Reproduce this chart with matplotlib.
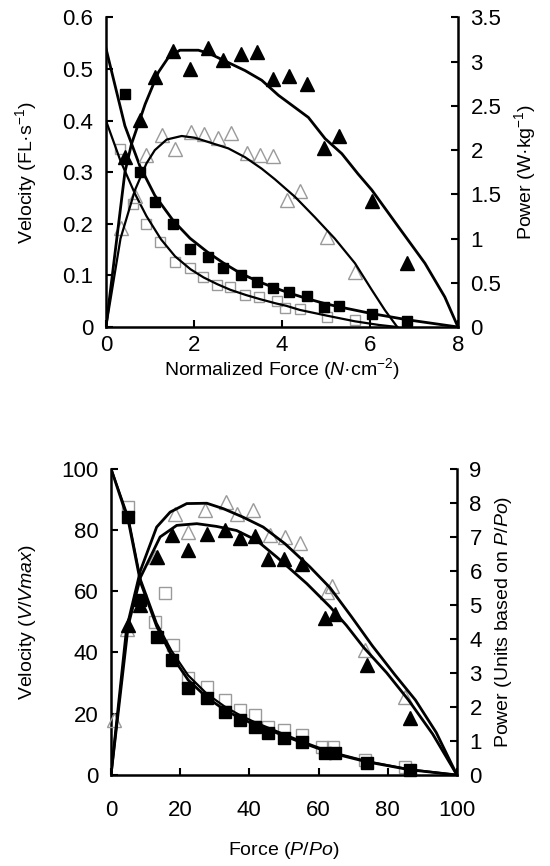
import matplotlib
matplotlib.use("Agg")
import matplotlib.pyplot as plt
from matplotlib.ticker import FuncFormatter, FixedLocator

plt.rcParams['font.family'] = ['Liberation Sans', 'DejaVu Sans']
plt.rcParams['mathtext.fontset'] = 'custom'
plt.rcParams['mathtext.rm'] = 'Liberation Sans'
plt.rcParams['mathtext.it'] = 'Liberation Sans:italic'
plt.rcParams['mathtext.bf'] = 'Liberation Sans:bold'

# ---------------- top panel data ----------------
top_filled_F = [0.43, 0.77, 1.11, 1.53, 1.91, 2.31, 2.67, 3.06, 3.44, 3.80, 4.16, 4.57, 4.95, 5.30, 6.04, 6.85]
top_filled_V = [0.452, 0.300, 0.243, 0.200, 0.152, 0.135, 0.114, 0.101, 0.088, 0.075, 0.068, 0.061, 0.039, 0.041, 0.025, 0.012]
top_filled_P = [1.92, 2.34, 2.83, 3.12, 2.92, 3.16, 3.02, 3.09, 3.11, 2.81, 2.84, 2.75, 2.02, 2.16, 1.43, 0.72]

top_open_F = [0.32, 0.62, 0.92, 1.23, 1.57, 1.91, 2.21, 2.52, 2.82, 3.16, 3.48, 3.88, 4.07, 4.41, 5.02, 5.66]
top_open_V = [0.345, 0.239, 0.200, 0.165, 0.126, 0.114, 0.097, 0.081, 0.078, 0.062, 0.059, 0.051, 0.036, 0.034, 0.020, 0.0135]
top_open_PF = [0.33, 0.66, 0.92, 1.27, 1.57, 1.93, 2.23, 2.55, 2.84, 3.20, 3.50, 3.80, 4.11, 4.41, 5.02, 5.66]
top_open_P = [1.12, 1.48, 1.94, 2.17, 2.01, 2.20, 2.18, 2.14, 2.19, 1.97, 1.95, 1.93, 1.44, 1.54, 1.02, 0.62]

# fitted curves
top_fit_fv_F = [0, 0.43, 0.77, 1.11, 1.53, 1.91, 2.31, 2.67, 3.06, 3.44, 3.80, 4.16, 4.57, 4.95, 5.30, 6.04, 6.85, 8.0]
top_fit_fv_V = [0.54, 0.39, 0.312, 0.255, 0.206, 0.172, 0.145, 0.124, 0.104, 0.089, 0.077, 0.066, 0.055, 0.046, 0.039, 0.026, 0.014, 0.0]
top_fit_ov_F = [0, 0.33, 0.66, 0.92, 1.25, 1.57, 1.92, 2.22, 2.53, 2.83, 3.18, 3.50, 3.85, 4.10, 4.41, 5.02, 5.66, 6.20, 6.62]
top_fit_ov_V = [0.40, 0.322, 0.258, 0.215, 0.170, 0.137, 0.112, 0.096, 0.083, 0.072, 0.062, 0.054, 0.046, 0.041, 0.033, 0.022, 0.011, 0.004, 0.0]
top_fit_fp_F = [0, 0.43, 0.58, 0.89, 1.19, 1.42, 1.68, 2.10, 2.36, 2.78, 3.16, 3.54, 3.92, 4.22, 4.60, 4.98, 5.36, 5.73, 6.04, 6.65, 7.25, 7.70, 8.0]
top_fit_fp_P = [0, 1.75, 2.07, 2.52, 2.88, 3.05, 3.13, 3.13, 3.09, 2.99, 2.90, 2.79, 2.62, 2.51, 2.37, 2.13, 1.96, 1.73, 1.55, 1.13, 0.72, 0.34, 0.0]
top_fit_op_F = [0, 0.33, 0.66, 0.92, 1.11, 1.38, 1.72, 2.02, 2.40, 2.78, 3.16, 3.54, 3.84, 4.30, 4.75, 5.20, 5.66, 6.04, 6.34, 6.62]
top_fit_op_P = [0, 1.00, 1.55, 1.85, 2.00, 2.12, 2.16, 2.14, 2.08, 2.02, 1.92, 1.79, 1.67, 1.47, 1.24, 1.00, 0.72, 0.42, 0.19, 0.0]

# ---------------- bottom panel data ----------------
bot_filled_F = [5.0, 8.5, 13.2, 17.5, 22.3, 27.7, 32.9, 37.3, 41.6, 45.5, 50.0, 55.1, 61.8, 64.7, 73.9, 86.4]
bot_filled_V = [84.3, 57.0, 45.1, 37.5, 28.3, 25.0, 20.7, 17.9, 15.8, 13.6, 12.2, 10.9, 7.3, 7.1, 4.0, 1.6]
bot_filled_P = [4.40, 5.00, 6.40, 7.04, 6.60, 7.07, 7.18, 6.97, 7.01, 6.35, 6.35, 6.21, 4.62, 4.74, 3.23, 1.66]

bot_open_F = [5.0, 12.7, 15.6, 18.0, 22.3, 27.7, 32.9, 37.3, 41.6, 45.5, 50.0, 55.1, 60.9, 64.2, 73.4, 85.0]
bot_open_V = [87.5, 50.0, 59.3, 42.4, 31.5, 28.8, 24.5, 21.2, 19.6, 15.8, 14.7, 13.0, 9.2, 9.2, 4.9, 2.7]
bot_open_PF = [1.0, 4.5, 12.7, 18.5, 22.3, 27.2, 33.2, 36.3, 41.1, 46.0, 50.3, 54.6, 62.3, 64.0, 73.4, 85.0]
bot_open_P = [1.60, 4.30, 6.40, 7.67, 7.13, 7.77, 8.01, 7.65, 7.79, 7.04, 6.99, 6.81, 5.37, 5.55, 3.67, 2.30]

bot_fit_fv_F = [0, 5.0, 8.5, 13.2, 17.5, 22.3, 27.7, 32.9, 37.3, 41.6, 45.5, 50.0, 55.1, 61.8, 64.7, 73.9, 86.4, 100]
bot_fit_fv_V = [100, 83.0, 63.0, 48.5, 39.0, 31.0, 25.3, 21.2, 18.6, 16.4, 14.8, 12.8, 10.6, 7.9, 6.9, 4.3, 1.7, 0]
bot_fit_ov_F = [0, 5.0, 8.5, 13.2, 17.5, 22.3, 27.7, 32.9, 37.3, 41.6, 45.5, 50.0, 55.1, 61.8, 64.7, 73.9, 86.4, 100]
bot_fit_ov_V = [100, 84.0, 64.0, 49.5, 40.5, 32.5, 26.5, 22.3, 19.5, 17.2, 15.4, 13.3, 11.0, 8.2, 7.2, 4.5, 1.8, 0]
bot_fit_fp_F = [0, 5.0, 8.5, 14.2, 19.0, 24.8, 30.5, 36.3, 42.1, 47.9, 56.6, 63.3, 68.0, 73.0, 79.7, 86.0, 93.0, 100]
bot_fit_fp_P = [0, 4.40, 5.80, 6.99, 7.33, 7.38, 7.30, 7.18, 6.89, 6.40, 5.62, 4.94, 4.40, 3.75, 3.00, 2.20, 1.20, 0]
bot_fit_op_F = [0, 4.5, 8.5, 13.2, 17.1, 21.9, 27.7, 32.5, 38.2, 44.0, 50.3, 57.5, 63.3, 69.5, 75.5, 82.0, 88.0, 94.0, 100]
bot_fit_op_P = [0, 4.30, 6.00, 7.28, 7.72, 7.97, 7.98, 7.82, 7.57, 7.28, 6.79, 6.11, 5.50, 4.65, 3.80, 2.95, 2.20, 1.25, 0]

GREY = '#9a9a9a'
LW = 2.0
fig = plt.figure(figsize=(5.5, 8.66), dpi=100)

def style(ax, ax2, xpad):
    for a in (ax, ax2):
        a.spines['top'].set_visible(False)
        for s in ('left', 'right', 'bottom'):
            a.spines[s].set_linewidth(1.8)
        a.tick_params(direction='in', length=5, width=1.5, labelsize=16, pad=9)
    ax.tick_params(axis='x', pad=xpad)
    ax.spines['right'].set_visible(False)
    ax2.spines['left'].set_visible(False)
    ax2.spines['bottom'].set_visible(False)

fmt = FuncFormatter(lambda v, p: '%g' % round(v, 3))

# ---------- top ----------
ax = fig.add_axes([0.1927, 0.6224, 0.640, 0.3574])
ax2 = ax.twinx()
style(ax, ax2, 6)
ax.plot(top_fit_fv_F, top_fit_fv_V, color='black', lw=LW, zorder=3)
ax.plot(top_fit_ov_F, top_fit_ov_V, color='black', lw=LW * 0.8, zorder=3)
ax2.plot(top_fit_fp_F, top_fit_fp_P, color='black', lw=LW, zorder=3)
ax2.plot(top_fit_op_F, top_fit_op_P, color='black', lw=LW * 0.8, zorder=3)
ax.plot(top_open_F, top_open_V, ls='none', marker='s', ms=7.5, mfc='none', mec=GREY, mew=1.0, clip_on=False)
ax.plot(top_filled_F, top_filled_V, ls='none', marker='s', ms=7.5, mfc='black', mec='black', clip_on=False, zorder=4)
ax2.plot(top_open_PF, top_open_P, ls='none', marker='^', ms=10.5, mfc='none', mec=GREY, mew=1.0, clip_on=False)
ax2.plot(top_filled_F, top_filled_P, ls='none', marker='^', ms=10.5, mfc='black', mec='black', clip_on=False, zorder=4)
ax.set_xlim(0, 8)
ax.set_ylim(0, 0.6)
ax2.set_ylim(0, 3.5)
ax.xaxis.set_major_locator(FixedLocator([0, 2, 4, 6, 8]))
ax.yaxis.set_major_locator(FixedLocator([0, 0.1, 0.2, 0.3, 0.4, 0.5, 0.6]))
ax2.yaxis.set_major_locator(FixedLocator([0, 0.5, 1, 1.5, 2, 2.5, 3, 3.5]))
ax.yaxis.set_major_formatter(fmt)
ax2.yaxis.set_major_formatter(fmt)
ax.set_xlabel('Normalized Force ($N$\u00b7cm$^{-2}$)', fontsize=14, labelpad=0)
ax.set_ylabel('Velocity (FL\u00b7s$^{-1}$)', fontsize=14, labelpad=17)
ax2.set_ylabel('Power (W\u00b7kg$^{-1}$)', fontsize=14, labelpad=8)

# ---------- bottom ----------
bx = fig.add_axes([0.2018, 0.1051, 0.629, 0.3539])
bx2 = bx.twinx()
style(bx, bx2, 18)
bx.plot(bot_fit_fv_F, bot_fit_fv_V, color='black', lw=LW, zorder=3)
bx.plot(bot_fit_ov_F, bot_fit_ov_V, color='black', lw=LW * 0.8, zorder=3)
bx2.plot(bot_fit_fp_F, bot_fit_fp_P, color='black', lw=LW, zorder=3)
bx2.plot(bot_fit_op_F, bot_fit_op_P, color='black', lw=LW, zorder=3)
bx.plot(bot_open_F, bot_open_V, ls='none', marker='s', ms=8, mfc='none', mec=GREY, mew=1.0, clip_on=False)
bx.plot(bot_filled_F, bot_filled_V, ls='none', marker='s', ms=8, mfc='black', mec='black', clip_on=False, zorder=4)
bx2.plot(bot_open_PF, bot_open_P, ls='none', marker='^', ms=10.5, mfc='none', mec=GREY, mew=1.0, clip_on=False)
bx2.plot(bot_filled_F, bot_filled_P, ls='none', marker='^', ms=10.5, mfc='black', mec='black', clip_on=False, zorder=4)
bx.set_xlim(0, 100)
bx.set_ylim(0, 100)
bx2.set_ylim(0, 9)
bx.xaxis.set_major_locator(FixedLocator([0, 20, 40, 60, 80, 100]))
bx.yaxis.set_major_locator(FixedLocator([0, 20, 40, 60, 80, 100]))
bx2.yaxis.set_major_locator(FixedLocator(list(range(10))))
bx.set_xlabel('Force ($P/Po$)', fontsize=14, labelpad=14)
bx.set_ylabel('Velocity ($V/Vmax$)', fontsize=14, labelpad=17)
bx2.set_ylabel('Power (Units based on $P/Po$)', fontsize=14, labelpad=8)

fig.savefig('out.png', dpi=100)
